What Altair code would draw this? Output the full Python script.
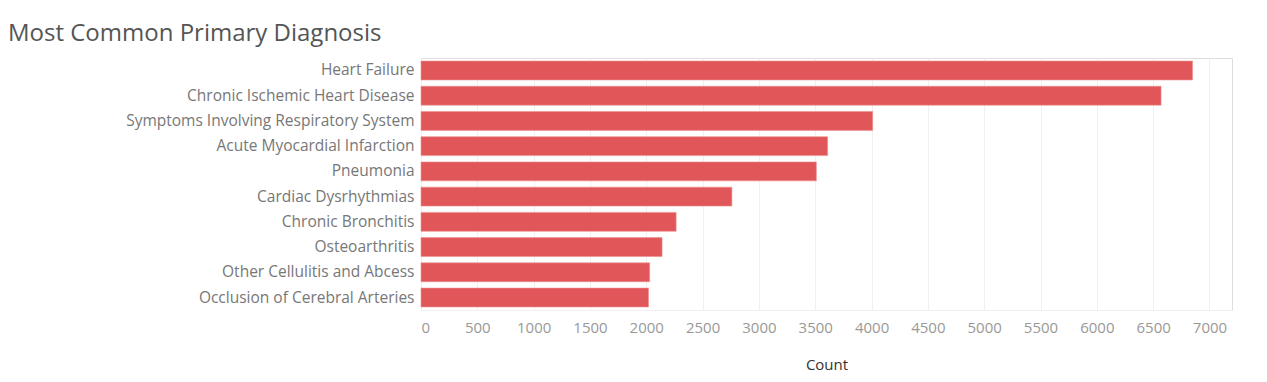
import altair as alt
import pandas as pd

diagnoses = [
    "Heart Failure",
    "Chronic Ischemic Heart Disease",
    "Symptoms Involving Respiratory System",
    "Acute Myocardial Infarction",
    "Pneumonia",
    "Cardiac Dysrhythmias",
    "Chronic Bronchitis",
    "Osteoarthritis",
    "Other Cellulitis and Abcess",
    "Occlusion of Cerebral Arteries",
]
counts = [6850, 6570, 4010, 3610, 3510, 2760, 2265, 2140, 2030, 2020]

df = pd.DataFrame({"Diagnosis": diagnoses, "Count": counts})

FONT = "Open Sans"

chart = (
    alt.Chart(df)
    .mark_bar(color="#E15759", stroke="#EE8E8F", strokeWidth=0.6)
    .encode(
        x=alt.X(
            "Count:Q",
            scale=alt.Scale(domain=[0, 7200], nice=False),
            axis=alt.Axis(
                values=list(range(0, 7001, 500)),
                format="d",
                title="Count",
                labelColor="#999999",
                labelFontSize=15,
                labelPadding=10,
                titleColor="#333333",
                titleFontSize=15,
                titleFontWeight="normal",
                titlePadding=22,
                grid=True,
                gridColor="#f0f0f0",
                domain=True,
                domainColor="#f0f0f0",
                domainWidth=1,
                ticks=False,
                labelFont=FONT,
                titleFont=FONT,
            ),
        ),
        y=alt.Y(
            "Diagnosis:N",
            sort=diagnoses,
            scale=alt.Scale(paddingInner=0.25, paddingOuter=0.12),
            axis=alt.Axis(
                title=None,
                labelColor="#777777",
                labelFontSize=15.5,
                labelPadding=7,
                labelLimit=400,
                minExtent=413,
                maxExtent=413,
                domain=False,
                ticks=False,
                grid=False,
                labelFont=FONT,
            ),
        ),
    )
    .properties(
        width=811,
        height=252,
        padding={"left": 0, "top": 14, "right": 5, "bottom": 5},
        title=alt.TitleParams(
            "Most Common Primary Diagnosis",
            anchor="start",
            frame="bounds",
            font=FONT,
            fontSize=24,
            fontWeight="normal",
            color="#555555",
            offset=12,
        ),
    )
    .configure_view(stroke="transparent", strokeWidth=0, strokeOpacity=0)
    .configure(background="white")
)

chart.save("out.html", embed_options={"renderer": "svg", "actions": False})
